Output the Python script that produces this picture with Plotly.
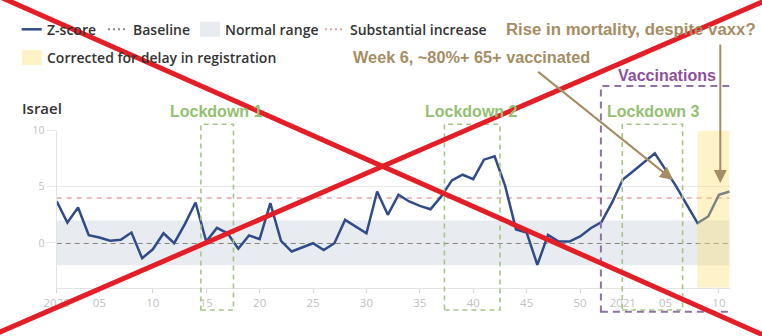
import plotly.graph_objects as go

# ---------------- data ----------------
years = ["2020", "2021"]
weeks_per_year = [53, 11]
week_labels = [f"{y}-W{w:02d}" for y, n in zip(years, weeks_per_year) for w in range(1, n + 1)]
x_idx = list(range(1, len(week_labels) + 1))

z_score = [3.7, 1.8, 3.15, 0.69, 0.48, 0.2, 0.27, 0.92, -1.37, -0.57,
           0.86, -0.03, 1.67, 3.6, 0.12, 1.33, 0.85, -0.52, 0.67, 0.33,
           3.54, 0.18, -0.77, -0.39, -0.03, -0.63, -0.03, 2.05, 1.46, 0.86,
           4.58, 2.5, 4.29, 3.69, 3.3, 3.0, 4.14, 5.57, 6.07, 5.68,
           7.41, 7.71, 5.03, 1.2, 0.92, -1.96, 0.71, 0.12, 0.12, 0.57,
           1.31, 1.85, 3.6, 5.65, 6.4, 7.15, 7.97, 6.52, 5.03, 3.39,
           1.76, 2.35, 4.29, 4.58]

baseline = 0
normal_low, normal_high = -2, 2
substantial = 4

tick_vals = [1, 5, 10, 15, 20, 25, 30, 35, 40, 45, 50, 54, 58, 63]
tick_text = ["2020", "05", "10", "15", "20", "25", "30", "35", "40", "45", "50", "2021", "05", "10"]

lockdowns = [("Lockdown 1", 14.5, 17.55), ("Lockdown 2", 37.3, 42.5), ("Lockdown 3", 53.95, 59.6)]
vaccination_span = (51.95, 64.25)
corrected_span = (61, 64)

# ---------------- layout helpers ----------------
W, H = 762, 336
def PX(x):
    return x / W
def PY(y):
    return 1 - y / H

BLUE = "#2f4b8a"
TAN = "#a68c62"
GREEN = "#93c06f"
PURPLE = "#8d4f9e"
UI_FONT = "Open Sans"
ANN_FONT = "Liberation Sans"

fig = go.Figure()
fig.add_trace(go.Scatter(x=x_idx, y=z_score, mode="lines",
                         line=dict(color=BLUE, width=2.5), customdata=week_labels,
                         hovertemplate="%{customdata}: %{y}<extra></extra>", showlegend=False))

shapes = []
# normal range band
shapes.append(dict(type="rect", xref="x", yref="y", x0=1, x1=64, y0=normal_low, y1=normal_high,
                   fillcolor="#e8ecf1", line=dict(width=0), layer="below"))
# baseline and substantial increase
shapes.append(dict(type="line", xref="x", yref="y", x0=1, x1=64, y0=baseline, y1=baseline,
                   line=dict(color="#858585", width=2, dash="5px,4px"), layer="below"))
shapes.append(dict(type="line", xref="x", yref="y", x0=1, x1=64, y0=substantial, y1=substantial,
                   line=dict(color="#e2a6a6", width=1.5, dash="5px,5px"), layer="below"))
# corrected for delay region
shapes.append(dict(type="rect", xref="x", yref="y", x0=corrected_span[0], x1=corrected_span[1],
                   y0=-4, y1=10, fillcolor="rgba(250,222,110,0.38)", line=dict(width=0), layer="above"))
# lockdown boxes
for name, a, b in lockdowns:
    shapes.append(dict(type="rect", xref="x", yref="paper", x0=a, x1=b, y0=PY(310), y1=PY(124.3),
                       fillcolor="rgba(0,0,0,0)", line=dict(color="#a6c585", width=1.6, dash="5px,4px"),
                       layer="above"))
# vaccination box
shapes.append(dict(type="rect", xref="x", yref="paper", x0=vaccination_span[0], x1=vaccination_span[1],
                   y0=PY(311.7), y1=PY(86), fillcolor="rgba(0,0,0,0)",
                   line=dict(color="#8f72a4", width=2, dash="7px,5px"), layer="above"))

# legend markers
shapes.append(dict(type="line", xref="paper", yref="paper", x0=PX(21.7), x1=PX(41.7), y0=PY(29.3), y1=PY(29.3),
                   line=dict(color=BLUE, width=2.5)))
shapes.append(dict(type="line", xref="paper", yref="paper", x0=PX(108), x1=PX(128), y0=PY(29.3), y1=PY(29.3),
                   line=dict(color="#8a8a8a", width=2, dash="2px,3px")))
shapes.append(dict(type="rect", xref="paper", yref="paper", x0=PX(200), x1=PX(220), y0=PY(36.7), y1=PY(21.7),
                   fillcolor="#e8ecf1", line=dict(width=0)))
shapes.append(dict(type="line", xref="paper", yref="paper", x0=PX(325), x1=PX(345), y0=PY(29.3), y1=PY(29.3),
                   line=dict(color="#e2a6a6", width=2, dash="2px,3px")))
shapes.append(dict(type="rect", xref="paper", yref="paper", x0=PX(21.7), x1=PX(41.7), y0=PY(65), y1=PY(50),
                   fillcolor="#fdf3c6", line=dict(width=0)))

# red cross
shapes.append(dict(type="line", xref="paper", yref="paper", x0=PX(-10), y0=PY(-7.5), x1=PX(775), y1=PY(340.2),
                   line=dict(color="#e31e26", width=5), layer="above"))
shapes.append(dict(type="line", xref="paper", yref="paper", x0=PX(-10), y0=PY(336.3), x1=PX(775), y1=PY(-3.6),
                   line=dict(color="#e31e26", width=5), layer="above"))

annotations = []
def text(x, y, s, size, color, family=UI_FONT, weight=600):
    annotations.append(dict(xref="paper", yref="paper", x=PX(x), y=PY(y), text=s, showarrow=False,
                            xanchor="left", yanchor="middle", borderpad=0,
                            font=dict(family=family, size=size, color=color, weight=weight)))

text(46, 29.5, "Z-score", 14, "#333333")
text(132, 29.5, "Baseline", 14, "#333333")
text(224, 29.5, "Normal range", 14, "#333333")
text(349, 29.5, "Substantial increase", 14, "#333333")
text(46, 57, "Corrected for delay in registration", 14, "#333333")
text(21, 108, "Israel", 15, "#333333")

text(505, 29, "Rise in mortality, despite vaxx?", 16.8, TAN, ANN_FONT, 700)
text(352, 57.5, "Week 6, ~80%+ 65+ vaccinated", 16.3, TAN, ANN_FONT, 700)
text(617, 75, "Vaccinations", 16, PURPLE, ANN_FONT, 700)
text(169, 111.5, "Lockdown 1", 16, GREEN, ANN_FONT, 700)
text(424, 111.5, "Lockdown 2", 16, GREEN, ANN_FONT, 700)
text(606, 112, "Lockdown 3", 16, GREEN, ANN_FONT, 700)

# arrows
annotations.append(dict(xref="paper", yref="paper", x=PX(673), y=PY(180), ax=536.7 - 673, ay=70.7 - 180,
                        axref="pixel", ayref="pixel", showarrow=True, arrowhead=2, arrowsize=1.3,
                        arrowwidth=2, arrowcolor=TAN, text=""))
annotations.append(dict(xref="paper", yref="paper", x=PX(720.3), y=PY(183), ax=0, ay=43 - 183,
                        axref="pixel", ayref="pixel", showarrow=True, arrowhead=2, arrowsize=1.3,
                        arrowwidth=2, arrowcolor=TAN, text=""))

fig.update_layout(
    width=W, height=H, margin=dict(l=0, r=0, t=0, b=0, autoexpand=False),
    paper_bgcolor="white", plot_bgcolor="white", showlegend=False,
    shapes=shapes, annotations=annotations,
    font=dict(family=UI_FONT, color="#bbbbbb"),
    xaxis=dict(domain=[PX(56.7), PX(729.6)], range=[1, 64], tickvals=tick_vals, ticktext=tick_text,
               showgrid=False, zeroline=False, showline=True, linecolor="#e3e3e3", linewidth=1,
               ticks="outside", ticklen=4, tickcolor="#d8d8d8", tickfont=dict(size=11.5, color="#c0c0c0")),
    yaxis=dict(domain=[PY(287.8), PY(130.6)], range=[-4, 10], tickvals=[0, 5, 10],
               showgrid=True, gridcolor="#e8e8e8", zeroline=False, showline=True, linecolor="#e3e3e3",
               ticks="outside", ticklen=9, tickcolor="#e3e3e3", tickfont=dict(size=10.5, color="#c0c0c0")),
)

fig.write_html("out.html")
